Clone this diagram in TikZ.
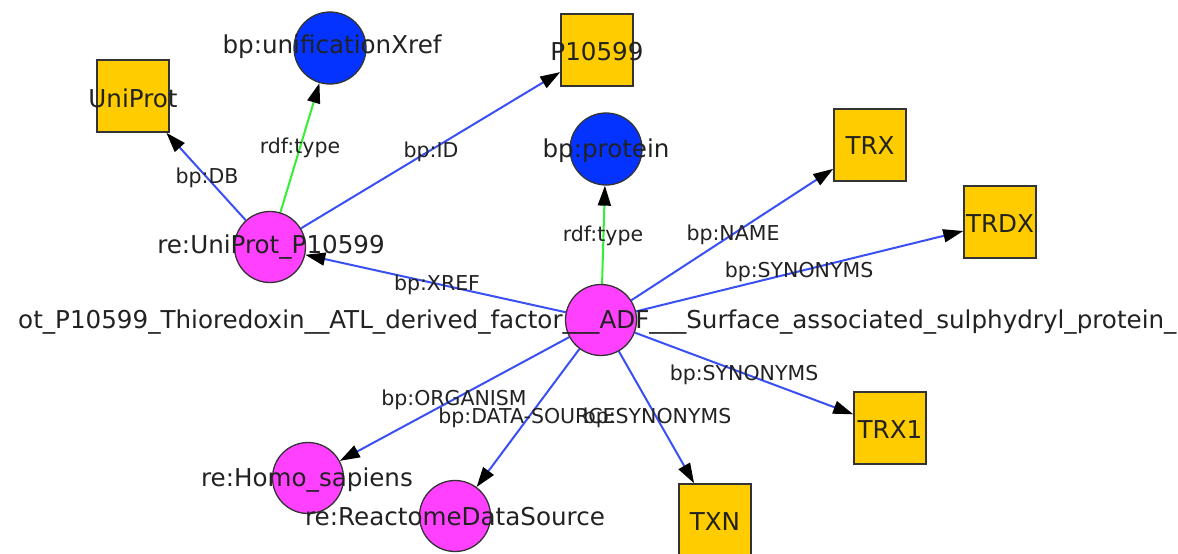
\documentclass[tikz,border=0pt]{standalone}
\usepackage{fontspec}
\setmainfont{DejaVu Sans}
\usetikzlibrary{arrows.meta,backgrounds}
\definecolor{edgeblue}{HTML}{3A50F5}
\definecolor{edgegreen}{HTML}{33F033}
\definecolor{magentafill}{HTML}{FF40FF}
\definecolor{bluefill}{HTML}{0433FF}
\definecolor{yellowfill}{HTML}{FFCC00}
\definecolor{bordergray}{HTML}{333333}
\definecolor{txt}{HTML}{222222}
\tikzset{
  rnode/.style={circle,draw=bordergray,line width=1.3pt,fill=magentafill,minimum size=71pt,inner sep=0pt},
  bnode/.style={circle,draw=bordergray,line width=1.3pt,fill=bluefill,minimum size=72pt,inner sep=0pt},
  lit/.style={rectangle,draw=bordergray,line width=1.5pt,fill=yellowfill,minimum size=72pt,inner sep=0pt},
  nlabel/.style={text=txt,font=\fontsize{24.6}{29}\selectfont,inner sep=0pt},
  elabel/.style={text=txt,font=\fontsize{20.5}{24}\selectfont,inner sep=0pt},
  rel/.style={draw=edgeblue,line width=2pt,-{Triangle[length=20pt,width=13pt,color=black]}},
  typ/.style={draw=edgegreen,line width=2pt,-{Triangle[length=20pt,width=13pt,color=black]}},
}
\begin{document}
\begin{tikzpicture}[x=1pt,y=-1pt]
\useasboundingbox (0,0) rectangle (1178,554);
% shapes
\node[lit]   (uniprot) at (133,96) {};
\node[bnode] (unif)    at (330,48) {};
\node[lit]   (p10599)  at (597,50) {};
\node[bnode] (protein) at (606,149) {};
\node[lit]   (trx)     at (870,145) {};
\node[lit]   (trdx)    at (1000,222) {};
\node[rnode] (reup)    at (270,247) {};
\node[rnode] (main)    at (601,320) {};
\node[lit]   (trxone)  at (890,428) {};
\node[lit]   (txn)     at (715,520) {};
\node[rnode] (homo)    at (308,478) {};
\node[rnode] (react)   at (455,516) {};
% connectors
\begin{pgfonlayer}{background}
\fill[white] (0,0) rectangle (1178,554);
\draw[rel] (reup) -- (uniprot);
\draw[typ] (reup) -- (unif);
\draw[rel] (reup) -- (p10599);
\draw[rel] (main) -- (reup);
\draw[typ] (main) -- (protein);
\draw[rel] (main) -- (trx);
\draw[rel] (main) -- (trdx);
\draw[rel] (main) -- (trxone);
\draw[rel] (main) -- (txn);
\draw[rel] (main) -- (homo);
\draw[rel] (main) -- (react);
\end{pgfonlayer}
% edge labels
\node[elabel] (lDB)    at (207,178) {bp:DB};
\node[elabel] (lT1)    at (300,148) {rdf:type};
\node[elabel] (lID)    at (431,152) {bp:ID};
\node[elabel] (lXREF)  at (437,285) {bp:XREF};
\node[elabel] (lT2)    at (603,236) {rdf:type};
\node[elabel] (lNAME)  at (733,235) {bp:NAME};
\node[elabel] (lSYN1)  at (799,272) {bp:SYNONYMS};
\node[elabel] (lSYN2)  at (744,375) {bp:SYNONYMS};
\node[elabel] (lORG)   at (454,400) {bp:ORGANISM};
\node[elabel] (lDS)    at (527,418) {bp:DATA-SOURCE};
\node[elabel] (lSYN3)  at (657,418) {bp:SYNONYMS};
% node labels
\node[nlabel] (tUniProt) at (133,98)  {UniProt};
\node[nlabel] (tUnif)    at (332,47)  {bp:unificationXref};
\node[nlabel] (tP)       at (597,52)  {P10599};
\node[nlabel] (tProt)    at (606,151) {bp:protein};
\node[nlabel] (tTRX)     at (870,146) {TRX};
\node[nlabel] (tTRDX)    at (1000,224) {TRDX};
\node[nlabel] (tReup)    at (271,247) {re:UniProt\_P10599};
\node[nlabel] (tTRX1)    at (890,430) {TRX1};
\node[nlabel] (tTXN)     at (715,522) {TXN};
\node[nlabel] (tHomo)    at (307,480) {re:Homo\_sapiens};
\node[nlabel] (tReact)   at (455,517) {re:ReactomeDataSource};
\node[nlabel,anchor=west] (tMain) at (18,322) {ot\_P10599\_Thioredoxin\_\_ATL\_derived\_factor\_\_\_ADF\_\_\_Surface\_associated\_sulphydryl\_protein\_};
\end{tikzpicture}
\end{document}
